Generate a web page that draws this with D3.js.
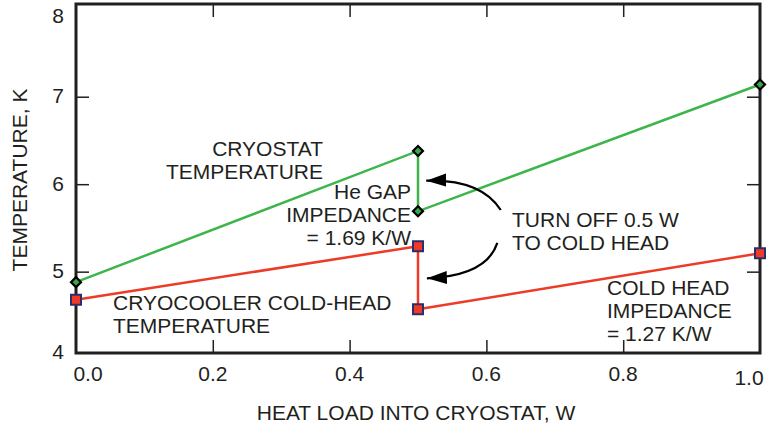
<!DOCTYPE html>
<html>
<head>
<meta charset="utf-8">
<script src="https://cdn.jsdelivr.net/npm/d3@7"></script>
<style>
  body { margin: 0; background: #fff; }
  text { font-family: "Liberation Sans", Arial, sans-serif; fill: #231f20; }
</style>
</head>
<body>
<div id="chart-area"></div>
<script>
// Data
const heatLoad = [0, 0.5, 0.5, 1.0];            // W
const cryostatTemp = [4.88, 6.38, 5.69, 7.14];  // K
const coldHeadTemp = [4.68, 5.29, 4.57, 5.21];  // K
const xTickLabels = [0, 0.2, 0.4, 0.6, 0.8, 1.0];
const yTickLabels = [4, 5, 6, 7, 8];

const WIDTH = 767;
const HEIGHT = 427;
const PLOT = { LEFT: 76, RIGHT: 760, TOP: 4, BOTTOM: 353 };

const GREEN = "#3db54a";
const RED = "#ee3b27";
const INK = "#231f20";

const svg = d3.select("#chart-area").append("svg")
  .attr("width", WIDTH)
  .attr("height", HEIGHT);

const x = d3.scaleLinear()
  .domain([0, 1])
  .range([PLOT.LEFT, PLOT.RIGHT]);

const y = d3.scaleLinear()
  .domain([4.07, 8.06])
  .range([PLOT.BOTTOM, PLOT.TOP]);

// inward tick marks on all four sides
const inner = [0.2, 0.4, 0.6, 0.8];
const innerY = [5, 6, 7];
const tickAxes = [
  [d3.axisBottom(x).tickValues(inner), `translate(0,${PLOT.BOTTOM})`],
  [d3.axisTop(x).tickValues(inner), `translate(0,${PLOT.TOP})`],
  [d3.axisLeft(y).tickValues(innerY), `translate(${PLOT.LEFT},0)`],
  [d3.axisRight(y).tickValues(innerY), `translate(${PLOT.RIGHT},0)`]
];
tickAxes.forEach(([axis, tr]) => {
  const gA = svg.append("g")
    .attr("transform", tr)
    .call(axis.tickSizeInner(-13).tickSizeOuter(0).tickFormat(""));
  gA.select(".domain").remove();
  gA.selectAll("line").attr("stroke", INK).attr("stroke-width", 1.5);
});

// frame
svg.append("rect")
  .attr("x", PLOT.LEFT)
  .attr("y", PLOT.TOP)
  .attr("width", PLOT.RIGHT - PLOT.LEFT)
  .attr("height", PLOT.BOTTOM - PLOT.TOP)
  .attr("fill", "none")
  .attr("stroke", INK)
  .attr("stroke-width", 3);

// tick labels
const xLab = svg.append("g")
  .attr("transform", `translate(0,${PLOT.BOTTOM})`)
  .call(d3.axisBottom(x).tickValues(xTickLabels).tickSize(0).tickPadding(13).tickFormat(d3.format(".1f")));
xLab.select(".domain").remove();
xLab.selectAll(".tick")
  .attr("transform", d => `translate(${Math.min(Math.max(x(d), 88), 749)},${d === 1 ? 4 : 0})`);
xLab.selectAll("text")
  .attr("font-size", "21px")
  .attr("font-family", null)
  .attr("fill", INK);

const yLab = svg.append("g")
  .attr("transform", `translate(${PLOT.LEFT},0)`)
  .call(d3.axisLeft(y).tickValues(yTickLabels).tickSize(0).tickPadding(12).tickFormat(d3.format("d")));
yLab.select(".domain").remove();
yLab.selectAll(".tick")
  .attr("transform", d => `translate(0,${Math.min(Math.max(y(d), 16), 352)})`);
yLab.selectAll("text")
  .attr("font-size", "21px")
  .attr("font-family", null)
  .attr("fill", INK);

// axis titles
svg.append("text")
  .attr("x", (PLOT.LEFT + PLOT.RIGHT) / 2 - 2)
  .attr("y", 420)
  .attr("font-size", "21px")
  .attr("text-anchor", "middle")
  .text("HEAT LOAD INTO CRYOSTAT, W");

svg.append("text")
  .attr("transform", "rotate(-90)")
  .attr("x", -180)
  .attr("y", 27)
  .attr("font-size", "21px")
  .attr("text-anchor", "middle")
  .text("TEMPERATURE, K");

// series
const series = [
  { name: "cryostat", values: cryostatTemp, color: GREEN },
  { name: "coldhead", values: coldHeadTemp, color: RED }
];

const line = d3.line()
  .x(d => x(d[0]))
  .y(d => y(d[1]));

series.forEach(s => {
  const pts = heatLoad.map((h, i) => [h, s.values[i]]);
  svg.append("path")
    .datum(pts)
    .attr("fill", "none")
    .attr("stroke", s.color)
    .attr("stroke-width", 2.5)
    .attr("d", line);
});

// cryostat markers: diamonds
svg.selectAll(".diamond")
  .data(heatLoad.map((h, i) => [h, cryostatTemp[i]]))
  .enter().append("path")
  .attr("class", "diamond")
  .attr("d", d3.symbol(d3.symbolSquare, 50))
  .attr("transform", d => `translate(${x(d[0])},${y(d[1])}) rotate(45)`)
  .attr("fill", "#3aa84a")
  .attr("stroke", "#000")
  .attr("stroke-width", 2.2);

// cold head markers: squares
svg.selectAll(".square")
  .data(heatLoad.map((h, i) => [h, coldHeadTemp[i]]))
  .enter().append("path")
  .attr("class", "square")
  .attr("d", d3.symbol(d3.symbolSquare, 100))
  .attr("transform", d => `translate(${x(d[0])},${y(d[1])})`)
  .attr("fill", RED)
  .attr("stroke", "#2e2d6b")
  .attr("stroke-width", 2);

// annotations
const notes = [
  { lines: ["CRYOSTAT", "TEMPERATURE"], x: 323, y: 156, anchor: "end" },
  { lines: ["He GAP", "IMPEDANCE", "= 1.69 K/W"], x: 411, y: 199, anchor: "end" },
  { lines: ["TURN OFF 0.5 W", "TO COLD HEAD"], x: 512, y: 227, anchor: "start" },
  { lines: ["CRYOCOOLER COLD-HEAD", "TEMPERATURE"], x: 113, y: 310, anchor: "start" },
  { lines: ["COLD HEAD", "IMPEDANCE", "= 1.27 K/W"], x: 607, y: 295, anchor: "start" }
];

notes.forEach(n => {
  const t = svg.append("text")
    .attr("x", n.x)
    .attr("y", n.y)
    .attr("font-size", "21px")
    .attr("text-anchor", n.anchor);
  n.lines.forEach((l, i) => {
    t.append("tspan")
      .attr("x", n.x)
      .attr("dy", i === 0 ? 0 : 23)
      .text(l);
  });
});

// curved arrows, given in data units
svg.append("defs").append("marker")
  .attr("id", "head")
  .attr("markerUnits", "userSpaceOnUse")
  .attr("viewBox", "0 -7 20 14")
  .attr("markerWidth", 20)
  .attr("markerHeight", 14)
  .attr("refX", 20)
  .attr("refY", 0)
  .attr("orient", "auto")
  .append("path")
  .attr("d", "M0,-6.5L20,0L0,6.5Z")
  .attr("fill", "#000");

const arrows = [
  { from: [0.621, 5.705], ctrl: [0.592, 6.06], to: [0.512, 6.04] },
  { from: [0.616, 5.328], ctrl: [0.600, 4.95], to: [0.513, 4.924] }
];

arrows.forEach(a => {
  const p = d3.path();
  p.moveTo(x(a.from[0]), y(a.from[1]));
  p.quadraticCurveTo(x(a.ctrl[0]), y(a.ctrl[1]), x(a.to[0]), y(a.to[1]));
  svg.append("path")
    .attr("d", p.toString())
    .attr("fill", "none")
    .attr("stroke", "#000")
    .attr("stroke-width", 2.2)
    .attr("marker-end", "url(#head)");
});
</script>
</body>
</html>
